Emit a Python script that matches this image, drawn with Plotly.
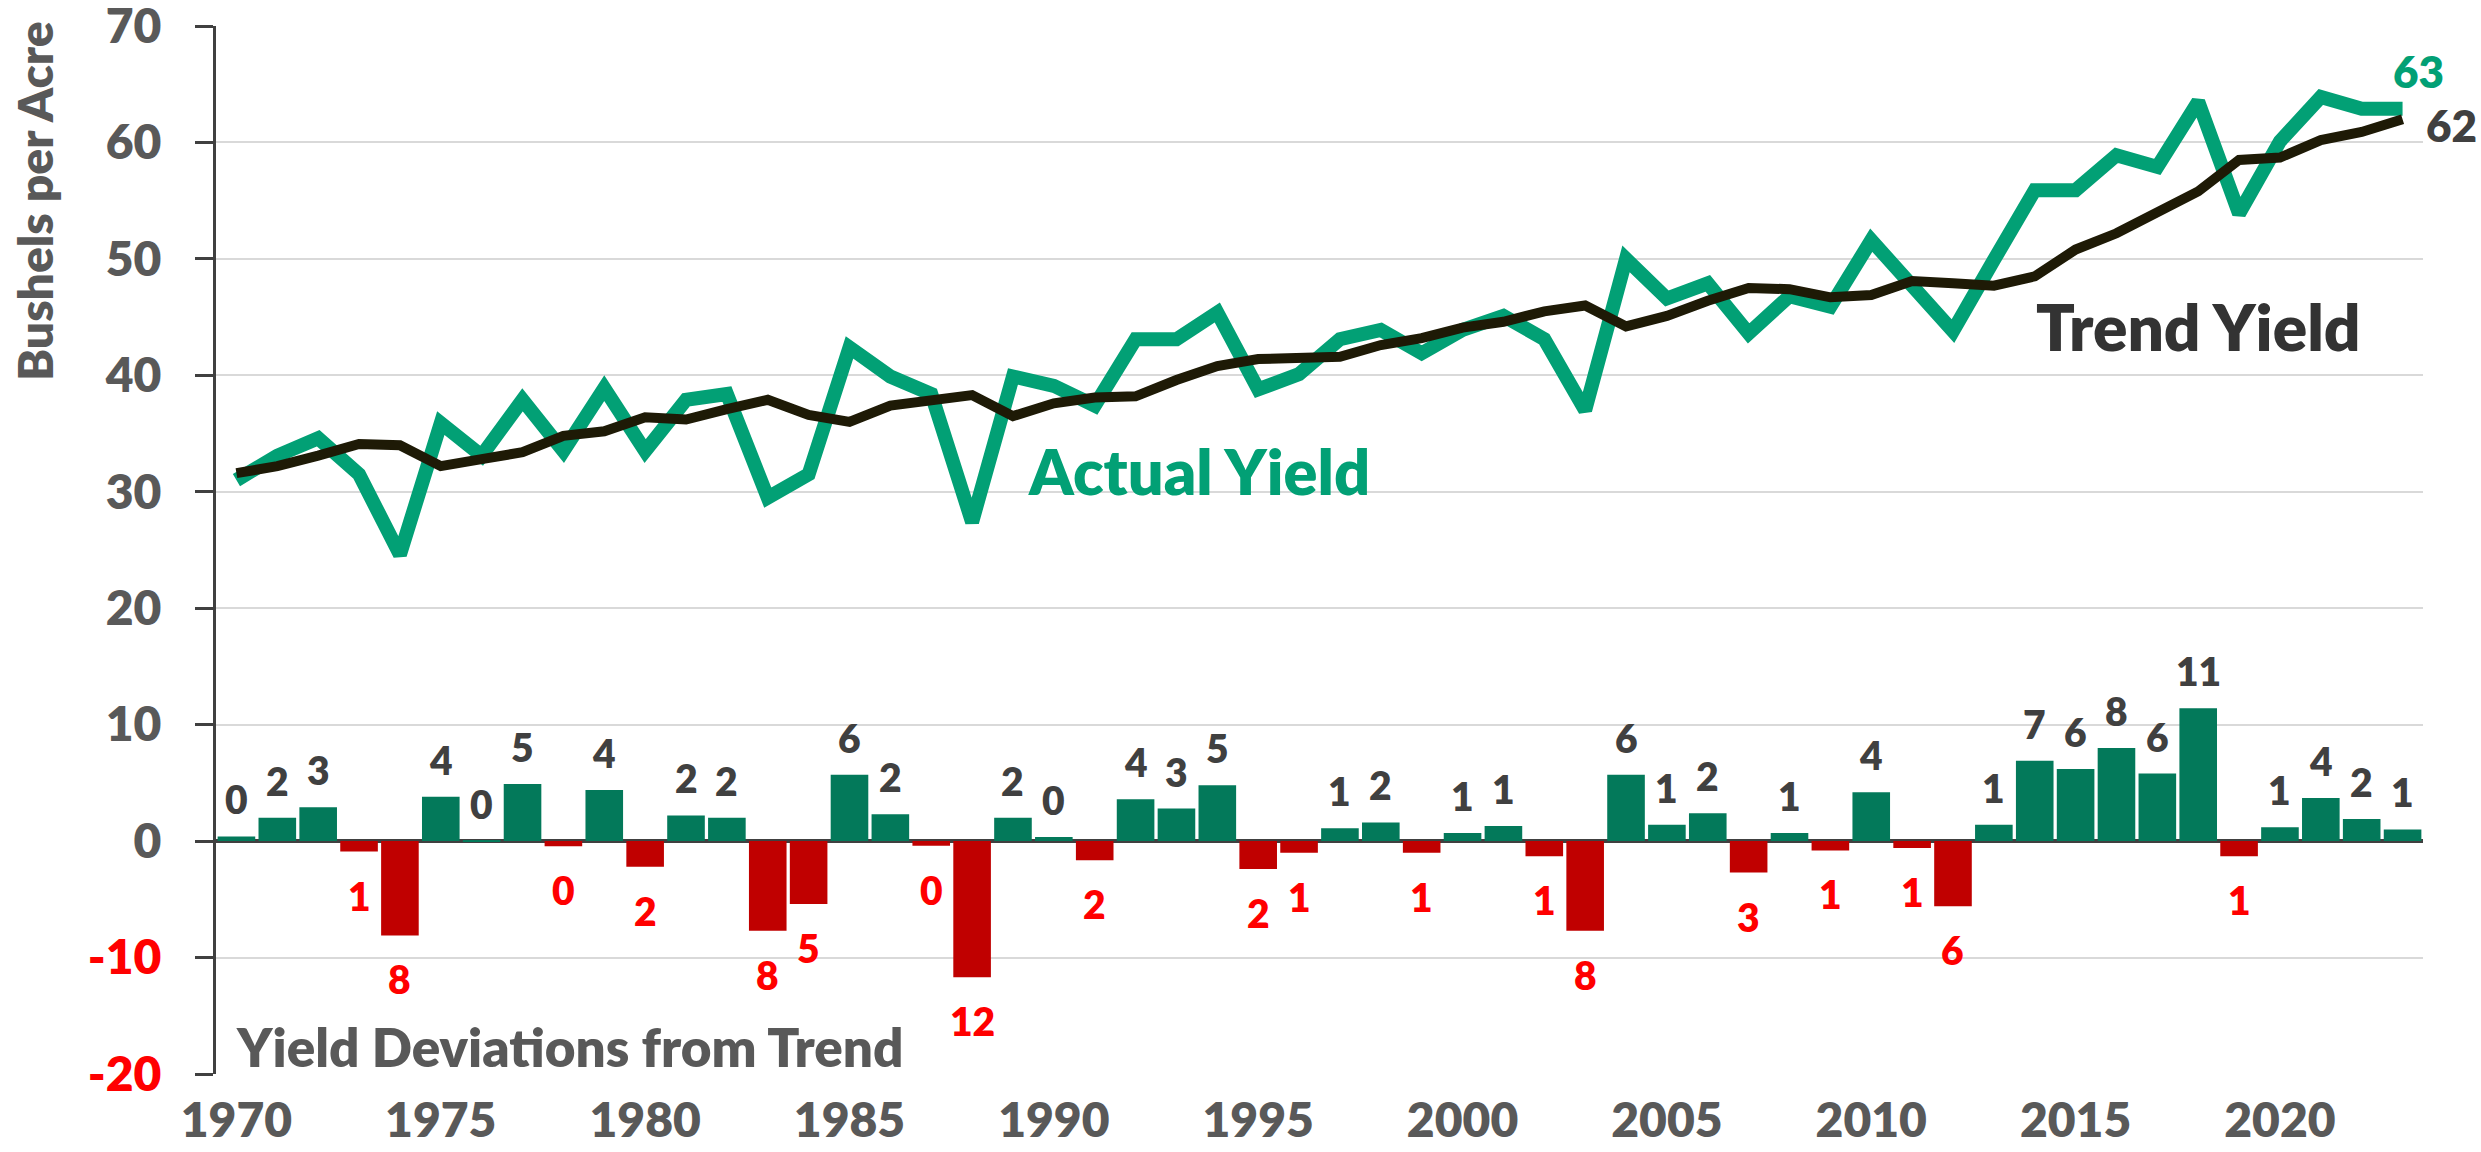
import plotly.graph_objects as go

# ---------------- data ----------------
years = list(range(1970, 2024))

actual_yield = [
    31.0, 33.1, 34.6, 31.5, 24.6, 35.9, 33.1, 37.9, 33.5, 38.9,
    33.5, 37.9, 38.4, 29.5, 31.5, 42.4, 39.9, 38.4, 27.4, 39.9,
    39.1, 37.4, 43.1, 43.1, 45.4, 38.8, 40.1, 43.1, 43.9, 41.9,
    43.9, 45.1, 43.1, 37.0, 50.0, 46.6, 47.9, 43.6, 46.8, 45.9,
    51.6, 47.8, 43.8, 49.9, 55.9, 55.9, 58.9, 57.9, 63.5, 53.9,
    60.1, 63.9, 62.9, 62.9,
]

trend_yield = [
    31.6, 32.2, 33.1, 34.1, 34.0, 32.2, 32.8, 33.4, 34.8, 35.2,
    36.4, 36.2, 37.1, 37.9, 36.6, 36.0, 37.4, 37.8, 38.3, 36.5,
    37.6, 38.1, 38.2, 39.6, 40.8, 41.4, 41.5, 41.6, 42.6, 43.2,
    44.1, 44.6, 45.5, 46.0, 44.2, 45.1, 46.4, 47.5, 47.4, 46.7,
    46.9, 48.1, 47.9, 47.7, 48.5, 50.8, 52.2, 54.1, 55.8, 58.5,
    58.7, 60.2, 60.9, 62.0,
]

deviation = [
    0.4, 2.0, 2.9, -0.9, -8.1, 3.8, 0.05, 4.9, -0.45, 4.4,
    -2.2, 2.2, 2.0, -7.7, -5.4, 5.7, 2.3, -0.4, -11.7, 2.0,
    0.35, -1.65, 3.6, 2.8, 4.8, -2.4, -1.0, 1.1, 1.6, -1.0,
    0.7, 1.3, -1.3, -7.7, 5.7, 1.4, 2.4, -2.7, 0.7, -0.8,
    4.2, -0.6, -5.6, 1.4, 6.9, 6.2, 8.0, 5.8, 11.4, -1.3,
    1.2, 3.7, 1.9, 1.0,
]

y_ticks = [-20, -10, 0, 10, 20, 30, 40, 50, 60, 70]
x_ticks = [1970, 1975, 1980, 1985, 1990, 1995, 2000, 2005, 2010, 2015, 2020]

# ---------------- styles ----------------
FONT = "Lato"
GRAY = "#595959"
DARK = "#404040"
LINE_GREEN = "#02A075"
BAR_GREEN = "#03795A"
BAR_RED = "#C00000"
LABEL_RED = "#FF0000"
TREND_BLACK = "#1E1A06"
W = 800

bar_colors = [BAR_GREEN if v >= 0 else BAR_RED for v in deviation]

fig = go.Figure()

fig.add_trace(go.Bar(
    x=years, y=deviation, marker=dict(color=bar_colors, line=dict(width=0)),
    hoverinfo="x+y", name="Deviation",
))
fig.add_trace(go.Scatter(
    x=years, y=actual_yield, mode="lines",
    line=dict(color=LINE_GREEN, width=14), name="Actual Yield",
))
fig.add_trace(go.Scatter(
    x=years, y=trend_yield, mode="lines",
    line=dict(color=TREND_BLACK, width=10), name="Trend Yield",
))

annotations = []
# bar value labels
for yr, v in zip(years, deviation):
    txt = str(int(round(abs(v))))
    if v >= 0:
        annotations.append(dict(
            x=yr, y=v, xref="x", yref="y", text=txt, showarrow=False,
            yanchor="bottom", xanchor="center", yshift=12,
            font=dict(family=FONT, size=39, color=DARK, weight=W),
        ))
    else:
        annotations.append(dict(
            x=yr, y=v, xref="x", yref="y", text=txt, showarrow=False,
            yanchor="top", xanchor="center", yshift=-19,
            font=dict(family=FONT, size=39, color=LABEL_RED, weight=W),
        ))

annotations += [
    dict(x=1993.55, y=31.8, xref="x", yref="y", text="Actual Yield",
         showarrow=False, xanchor="center", yanchor="middle",
         font=dict(family=FONT, size=63, color=LINE_GREEN, weight=W)),
    dict(x=2018.0, y=44.2, xref="x", yref="y", text="Trend Yield",
         showarrow=False, xanchor="center", yanchor="middle",
         font=dict(family=FONT, size=64, color="#333333", weight=W)),
    dict(x=1969.95, y=-17.6, xref="x", yref="y", text="Yield Deviations from Trend",
         showarrow=False, xanchor="left", yanchor="middle",
         font=dict(family=FONT, size=53, color=GRAY, weight=W)),
    dict(x=2023.4, y=66.1, xref="x", yref="y", text="63",
         showarrow=False, xanchor="center", yanchor="middle",
         font=dict(family=FONT, size=44, color=LINE_GREEN, weight=W)),
    dict(x=1.0127, y=61.5, xref="paper", yref="y", text="62",
         showarrow=False, xanchor="center", yanchor="middle",
         font=dict(family=FONT, size=44, color=DARK, weight=W)),
    dict(x=-0.0825, y=0.833, xref="paper", yref="paper", text="Bushels per Acre",
         showarrow=False, xanchor="center", yanchor="middle", textangle=-90,
         font=dict(family=FONT, size=48, color=GRAY, weight=W)),
]

y_ticktext = [
    (f'<span style="color:{LABEL_RED}">{t}</span>' if t < 0 else str(t))
    for t in y_ticks
]

fig.update_layout(
    width=2481, height=1152,
    margin=dict(l=216, r=58, t=26, b=78, autoexpand=False),
    paper_bgcolor="white", plot_bgcolor="white",
    showlegend=False, bargap=0.08,
    font=dict(family=FONT, color=GRAY),
    annotations=annotations,
    xaxis=dict(
        range=[1969.5, 2023.5], tickmode="array", tickvals=x_ticks,
        ticktext=[str(t) for t in x_ticks], automargin=False,
        showgrid=False, zeroline=False, showline=False,
        ticks="", ticklabelstandoff=14, ticklabeloverflow="allow",
        tickfont=dict(family=FONT, size=48, color=GRAY, weight=W),
    ),
    yaxis=dict(
        range=[-20, 70], tickmode="array", tickvals=y_ticks, ticktext=y_ticktext,
        automargin=False,
        showgrid=True, gridcolor="#D9D9D9", gridwidth=2,
        zeroline=True, zerolinecolor=DARK, zerolinewidth=4,
        showline=True, linecolor=DARK, linewidth=3,
        ticks="outside", ticklen=18, tickwidth=3, tickcolor=DARK,
        ticklabelstandoff=24, ticklabeloverflow="allow",
        tickfont=dict(family=FONT, size=48, color=GRAY, weight=W),
    ),
)

fig.write_html(
    "out.html",
    config={"displayModeBar": False},
    post_script="document.body.style.margin='0';document.body.style.overflow='hidden';",
)
